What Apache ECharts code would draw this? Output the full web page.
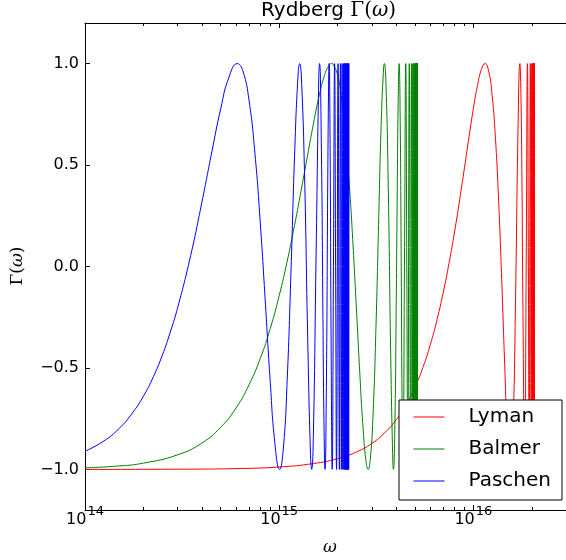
<!DOCTYPE html>
<html>
<head>
<meta charset="utf-8">
<script src="https://cdn.jsdelivr.net/npm/echarts@6/dist/echarts.min.js"></script>
<style>
  html, body { margin: 0; padding: 0; background: #ffffff; }
  #chart { width: 566px; height: 560px; }
</style>
</head>
<body>
<div id="chart"></div>
<script>
// Γ(ω) for the three hydrogen series, sampled along ω (rad/s).

const seriesNames = ['Lyman', 'Balmer', 'Paschen'];

const lymanOmega = [
  1e14, 3e14, 6e14, 1e15, 1.5e15, 2e15, 2.5e15, 3e15, 3.5e15, 4e15, 4.5e15, 5e15, 5.5e15,
  6e15, 6.5e15, 7e15, 7.5e15, 8e15, 8.5e15, 9e15, 9.5e15,
  1e16, 1.05e16, 1.1e16, 1.1483e16, 1.2e16, 1.25e16, 1.3e16, 1.35e16, 1.4e16, 1.45e16,
  1.5e16, 1.5503e16, 1.6e16, 1.65e16, 1.7e16, 1.7363e16, 1.75e16, 1.775e16, 1.8e16,
  1.8373e16, 1.8713e16, 1.8983e16, 1.9200e16, 1.9378e16, 1.9649e16, 1.9843e16,
  1.9987e16, 2.0096e16, 2.0181e16, 2.0248e16, 2.0303e16, 2.0347e16, 2.0384e16,
  2.0415e16, 2.0441e16, 2.0463e16, 2.0483e16, 2.0499e16, 2.0514e16, 2.0527e16,
  2.05377e16, 2.05477e16, 2.05566e16, 2.05645e16, 2.05717e16, 2.05781e16, 2.05840e16,
  2.05893e16, 2.05941e16, 2.05985e16, 2.06025e16, 2.06062e16, 2.06156e16, 2.06183e16,
  2.06356e16, 2.06369e16, 2.06462e16, 2.06470e16
];
const lymanGamma = [
  -1.000, -0.999, -0.996, -0.988, -0.971, -0.947, -0.914, -0.872, -0.819, -0.756, -0.682, -0.595, -0.497,
  -0.386, -0.262, -0.127, 0.018, 0.170, 0.329, 0.487, 0.639,
  0.778, 0.892, 0.971, 1.000, 0.962, 0.842, 0.630, 0.321, -0.065, -0.484,
  -0.842, -1.000, -0.795, -0.148, 0.699, 1.000, 0.944, 0.532, -0.202,
  -1.000, 0.000, 1.000, 0.000, -1.000, 1, -1,
  1, -1, 1, -1, 1, -1, 1,
  -1, 1, -1, 1, -1, 1, -1,
  1, -1, 1, -1, 1, -1, 1,
  -1, 1, -1, 1, -1, 1, -1,
  1, -1, 1, -1
];

const balmerOmega = [
  1e14, 1.5e14, 2e14, 3e14, 4e14, 5e14, 6e14, 7e14, 8e14, 9e14,
  1e15, 1.1e15, 1.2e15, 1.3e15, 1.4e15, 1.5e15, 1.6e15, 1.7e15, 1.8e15, 1.8603e15,
  1.9e15, 2.0e15, 2.1e15, 2.2e15, 2.3e15, 2.4e15, 2.5e15, 2.6e15, 2.7e15, 2.8e15,
  2.8708e15, 2.95e15, 3.05e15, 3.15e15, 3.25e15, 3.35e15, 3.45e15, 3.4802e15,
  3.55e15, 3.65e15, 3.75e15, 3.85e15, 3.8756e15, 3.95e15, 4.0e15, 4.05e15, 4.1e15,
  4.1468e15, 4.2e15, 4.25e15, 4.3e15, 4.3407e15, 4.4176e15, 4.4842e15, 4.5423e15,
  4.5933e15, 4.6783e15, 4.7457e15, 4.8000e15, 4.8445e15, 4.8814e15, 4.9123e15,
  4.9385e15, 4.9608e15, 4.9800e15, 4.9967e15, 5.0112e15, 5.0240e15, 5.0352e15,
  5.0452e15, 5.0541e15, 5.0620e15, 5.0692e15, 5.0756e15, 5.0815e15, 5.0868e15,
  5.0916e15, 5.0960e15, 5.1000e15, 5.1037e15, 5.1132e15, 5.1158e15, 5.1331e15,
  5.1344e15, 5.1438e15, 5.1445e15, 5.1543e15, 5.1546e15
];
const balmerGamma = [
  -0.992, -0.983, -0.969, -0.928, -0.870, -0.792, -0.697, -0.582, -0.452, -0.305,
  -0.144, 0.027, 0.203, 0.379, 0.548, 0.702, 0.834, 0.933, 0.990, 1.000,
  0.995, 0.942, 0.824, 0.641, 0.398, 0.107, -0.210, -0.521, -0.787, -0.960,
  -1.000, -0.945, -0.710, -0.305, 0.207, 0.695, 0.981, 1.000,
  0.890, 0.365, -0.417, -0.970, -1.000, -0.728, -0.263, 0.314, 0.810,
  1.000, 0.720, 0.022, -0.735, -1.000, 0.000, 1.000, 0.000,
  -1, 1, -1, 1, -1, 1, -1,
  1, -1, 1, -1, 1, -1, 1,
  -1, 1, -1, 1, -1, 1, -1,
  1, -1, 1, -1, 1, -1, 1,
  -1, 1, -1, 1, -1
];

const paschenOmega = [
  1e14, 1.25e14, 1.5e14, 1.75e14, 2e14, 2.25e14, 2.5e14, 2.75e14, 3e14, 3.5e14, 4e14,
  4.5e14, 5e14, 5.5e14, 6.093e14, 6.5e14, 7e14, 7.5e14, 8e14, 8.5e14, 9e14, 9.5e14, 1.0048e15,
  1.05e15, 1.1e15, 1.15e15, 1.2e15, 1.25e15, 1.2759e15, 1.3e15, 1.35e15, 1.4e15,
  1.45e15, 1.4699e15, 1.5e15, 1.55e15, 1.6e15, 1.6134e15, 1.65e15, 1.68e15, 1.7e15,
  1.7225e15, 1.75e15, 1.78e15, 1.8e15, 1.8074e15, 1.83e15, 1.85e15, 1.8748e15,
  1.9034e15, 1.9292e15, 1.9525e15, 1.9737e15, 2.0106e15, 2.0415e15, 2.0676e15,
  2.0900e15, 2.1092e15, 2.1258e15, 2.1404e15, 2.1531e15, 2.1644e15, 2.1744e15,
  2.1833e15, 2.1912e15, 2.1984e15, 2.2048e15, 2.2106e15, 2.2159e15, 2.2207e15,
  2.2251e15, 2.2292e15, 2.2329e15, 2.2423e15, 2.2450e15, 2.2622e15, 2.2636e15,
  2.2729e15, 2.2737e15, 2.2834e15, 2.2838e15
];
const paschenGamma = [
  -0.911, -0.860, -0.798, -0.723, -0.639, -0.543, -0.438, -0.323, -0.203, 0.054, 0.317,
  0.565, 0.778, 0.930, 1.000, 0.964, 0.816, 0.558, 0.210, -0.187, -0.572, -0.869, -1.000,
  -0.900, -0.556, -0.027, 0.543, 0.939, 1.000, 0.943, 0.467, -0.317,
  -0.932, -1.000, -0.832, 0.072, 0.945, 1.000, 0.570, -0.246, -0.753,
  -1.000, -0.592, 0.455, 0.953, 1.000, 0.561, -0.326, -1.000,
  0.000, 1.000, 0.000, -1.000, 1, -1, 1,
  -1, 1, -1, 1, -1, 1, -1,
  1, -1, 1, -1, 1, -1, 1,
  -1, 1, -1, 1, -1, 1, -1,
  1, -1, 1, -1
];

// axis ranges and tick positions
const xRange = [1e14, 3e16];
const yRange = [-1.2, 1.2];
const xMajorTicks = [1e14, 1e15, 1e16];
const xMinorTicks = [
  2e14, 3e14, 4e14, 5e14, 6e14, 7e14, 8e14, 9e14,
  2e15, 3e15, 4e15, 5e15, 6e15, 7e15, 8e15, 9e15,
  2e16, 3e16
];
const yTicks = [-1.0, -0.5, 0.0, 0.5, 1.0];

const SANS = 'DejaVu Sans';
const SERIF = 'DejaVu Serif';
const BLACK = '#000000';

const pairs = (xs, ys) => xs.map((x, i) => [x, ys[i]]);
const seriesData = [
  pairs(lymanOmega, lymanGamma),
  pairs(balmerOmega, balmerGamma),
  pairs(paschenOmega, paschenGamma)
];
const seriesColors = ['#ff0000', '#008000', '#0000ff'];

const mathRich = {
  m: { fontFamily: SERIF, fontSize: 17, color: BLACK },
  i: { fontFamily: SERIF, fontStyle: 'italic', fontSize: 17, color: BLACK }
};

function logAxis(position, major) {
  const isMainBottom = position === 'bottom' && major;
  return {
    type: 'log',
    logBase: 10,
    gridIndex: 0,
    position: position,
    min: xRange[0],
    max: xRange[1],
    splitLine: { show: false },
    axisLine: { show: major, onZero: false, lineStyle: { color: BLACK, width: 1 } },
    axisTick: {
      show: true,
      inside: true,
      length: major ? 5 : 3,
      customValues: major ? xMajorTicks : xMinorTicks,
      lineStyle: { color: BLACK, width: 1 }
    },
    axisLabel: isMainBottom ? {
      show: true,
      customValues: xMajorTicks,
      margin: 0,
      formatter: function (v) {
        return '{b|10}{s|' + Math.round(Math.log10(v)) + '}';
      },
      rich: {
        b: { fontFamily: SANS, fontSize: 16, lineHeight: 16, padding: [4, 0, 0, 0], color: BLACK },
        s: { fontFamily: SANS, fontSize: 13, lineHeight: 7, padding: [0, 0, 13, 1], color: BLACK }
      }
    } : { show: false }
  };
}

const chart = echarts.init(document.getElementById('chart'), null, { renderer: 'canvas' });

chart.setOption({
  animation: false,
  backgroundColor: '#ffffff',
  title: {
    text: '{t|Rydberg }{m|Γ(}{i|ω}{m|)}',
    left: 261,
    top: 0,
    padding: 0,
    textStyle: {
      fontWeight: 'normal',
      rich: {
        t: { fontFamily: SANS, fontWeight: 'normal', fontSize: 20, lineHeight: 22, color: BLACK },
        m: { fontFamily: SERIF, fontWeight: 'normal', fontSize: 20, lineHeight: 22, color: BLACK },
        i: { fontFamily: SERIF, fontWeight: 'normal', fontStyle: 'italic', fontSize: 20, lineHeight: 22, color: BLACK }
      }
    }
  },
  grid: { left: 85, top: 23, width: 483, height: 487, containLabel: false },
  xAxis: [
    logAxis('bottom', true),
    logAxis('bottom', false),
    logAxis('top', true),
    logAxis('top', false)
  ],
  yAxis: [{
    type: 'value',
    gridIndex: 0,
    position: 'left',
    min: yRange[0],
    max: yRange[1],
    splitLine: { show: false },
    axisLine: { show: true, onZero: false, lineStyle: { color: BLACK, width: 1 } },
    axisTick: { show: true, inside: true, length: 5, customValues: yTicks, lineStyle: { color: BLACK, width: 1 } },
    axisLabel: {
      customValues: yTicks,
      margin: 6,
      fontFamily: SANS,
      fontSize: 16,
      color: BLACK,
      formatter: function (v) { return v.toFixed(1).replace('-', '\u2212'); }
    }
  }],
  legend: {
    orient: 'vertical',
    left: 399,
    top: 400,
    padding: [6, 11, 8, 14],
    itemWidth: 31,
    itemHeight: 22,
    itemGap: 10,
    backgroundColor: '#ffffff',
    borderColor: BLACK,
    borderWidth: 1,
    borderRadius: 0,
    itemStyle: { opacity: 0 },
    lineStyle: { width: 1 },
    textStyle: { fontFamily: SANS, fontSize: 20, lineHeight: 22, color: BLACK, padding: [0, 0, 0, 19] },
    data: seriesNames
  },
  graphic: [
    {
      type: 'text',
      x: 18,
      y: 266,
      rotation: Math.PI / 2,
      style: { text: '{m|Γ(}{i|ω}{m|)}', rich: mathRich, align: 'center', verticalAlign: 'middle' }
    },
    {
      type: 'text',
      x: 330,
      y: 548,
      style: { text: '{i|ω}', rich: mathRich, align: 'center', verticalAlign: 'middle' }
    }
  ],
  series: seriesNames.map((name, k) => ({
    name: name,
    type: 'line',
    xAxisIndex: 0,
    yAxisIndex: 0,
    data: seriesData[k],
    symbol: 'none',
    smooth: 0.5,
    lineStyle: { color: seriesColors[k], width: 1 },
    itemStyle: { color: seriesColors[k] },
    emphasis: { disabled: true }
  }))
});
</script>
</body>
</html>
